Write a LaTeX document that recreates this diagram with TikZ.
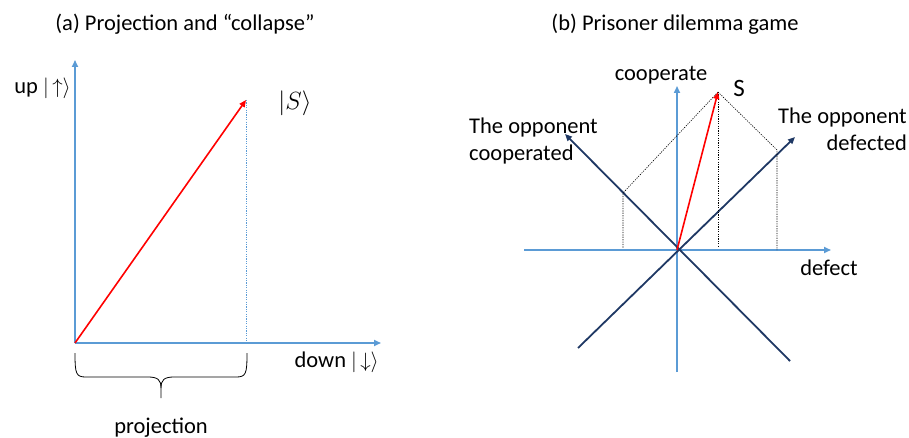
\documentclass[tikz,border=0pt]{standalone}
\usepackage{fontspec}
\setmainfont{Carlito}
\usetikzlibrary{arrows.meta,calc}
\definecolor{axblue}{RGB}{91,155,213}
\definecolor{navy}{RGB}{31,56,100}
\definecolor{vred}{RGB}{255,0,0}
\begin{document}
\begin{tikzpicture}[x=1pt,y=-1pt,
  every node/.style={font=\fontsize{22.5}{27}\selectfont, inner sep=0pt},
  bigtxt/.style={font=\fontsize{26}{30}\selectfont},
  axis/.style={draw=axblue, line width=1.6pt, -{Triangle[length=7pt,width=6pt]}},
  statevec/.style={draw=vred, line width=1.6pt, -{Triangle[length=7pt,width=6pt]}},
  basis/.style={draw=navy, line width=1.8pt, -{Triangle[length=7pt,width=6pt]}},
  proj/.style={draw=black, line width=0.6pt, dash pattern=on 1.2pt off 1.2pt},
  projblue/.style={draw=axblue, line width=0.8pt, dash pattern=on 1.2pt off 1.2pt},
  bracestyle/.style={draw=black, line width=0.8pt}]
\useasboundingbox (0,0) rectangle (909,438);
% ---------- panel (a) ----------
\node (ta) at (185,24) {(a) Projection and “collapse”};
\coordinate (o1) at (75,343);
\coordinate (ytip) at (75,60);
\coordinate (xtip) at (381,343);
\coordinate (s1) at (246,100);
\coordinate (s1foot) at (246,343);
\draw[axis] (o1) -- (ytip);
\draw[axis] (o1) -- (xtip);
\draw[projblue] (s1) -- (s1foot);
\draw[statevec] (o1) -- (s1);
\node[anchor=east] (uplbl) at (71,88) {up $|\,{\uparrow}\rangle$};
\node[bigtxt] (slbl) at (295,103) {$|S\rangle$};
\node[anchor=east] (downlbl) at (379,362) {down $|\,{\downarrow}\rangle$};
% brace
\coordinate (bl) at (75,353);
\coordinate (br) at (247,353);
\coordinate (btip) at (161,398);
\draw[bracestyle] (bl) .. controls (75,374) and (76,377) .. (86,377)
  -- (148,377) .. controls (158,377) and (161,380) .. (161,388) -- (btip);
\draw[bracestyle] (br) .. controls (247,374) and (246,377) .. (236,377)
  -- (174,377) .. controls (164,377) and (161,380) .. (161,388);
\node (projlbl) at (161,428) {projection};
% ---------- panel (b) ----------
\node (tb) at (675,24) {(b) Prisoner dilemma game};
\coordinate (o2) at (677,250);
\coordinate (vbot) at (677,372);
\coordinate (vtop) at (677,86);
\coordinate (hleft) at (524,250);
\coordinate (hright) at (831,250);
\draw[axblue, line width=1.6pt] (vbot) -- (o2);
\draw[axis] (o2) -- (vtop);
\draw[axblue, line width=1.6pt] (hleft) -- (o2);
\draw[axis] (o2) -- (hright);
% navy basis lines
\coordinate (dtip) at (795,137);
\coordinate (dend) at (578,348);
\coordinate (ctip) at (565,134);
\coordinate (cend) at (790,361);
\draw[basis] (dend) -- (dtip);
\draw[basis] (cend) -- (ctip);
% projections
\coordinate (s2) at (718,92);
\coordinate (pd) at (777,150);
\coordinate (pc) at (623,193);
\coordinate (pdf) at (777,250);
\coordinate (pcf) at (623,248);
\coordinate (s2f) at (718,246);
\draw[proj] (s2) -- (pd) -- (pdf);
\draw[proj] (s2) -- (pc) -- (pcf);
\draw[proj] (s2) -- (s2f);
\draw[statevec] (o2) -- (s2);
% labels
\node (coop) at (661,75) {cooperate};
\node[font=\fontsize{25}{30}\selectfont] (slbl2) at (739,88) {S};
\node[anchor=west, align=left] (oppc) at (469,141) {The opponent\\cooperated};
\node[anchor=east, align=right] (oppd) at (907,129) {The opponent\\defected};
\node (deflbl) at (829,268) {defect};
\end{tikzpicture}
\end{document}
